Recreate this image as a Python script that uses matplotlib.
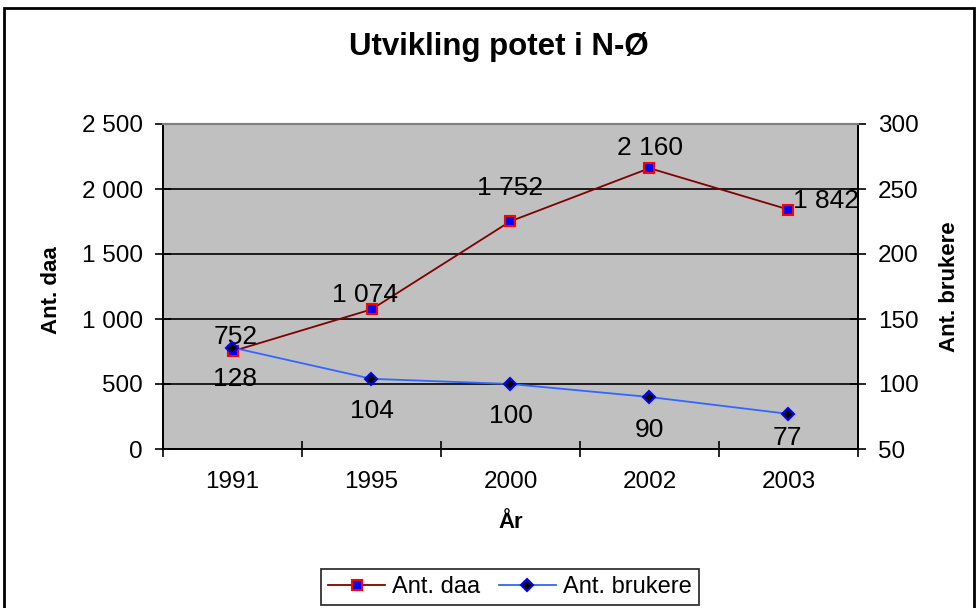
import matplotlib.pyplot as plt
from matplotlib.patches import Rectangle
from matplotlib.ticker import FuncFormatter, MultipleLocator
from matplotlib.lines import Line2D

plt.rcParams['font.family'] = ['Liberation Sans', 'DejaVu Sans']

years = ['1991', '1995', '2000', '2002', '2003']
ant_daa = [752, 1074, 1752, 2160, 1842]
ant_brukere = [128, 104, 100, 90, 77]

# manual label nudges (pixels), like in the original sheet
daa_offsets = [(3, 14), (-7, 14), (0, 33), (1, 20), (38, 9)]
bruk_offsets = [(3, -31), (0, -32), (0, -32), (0, -33), (-1, -24)]


def space_thousands(v, pos=None):
    return '{:,}'.format(int(v)).replace(',', ' ')


fig = plt.figure(figsize=(9.79, 6.08), dpi=100)
ax = fig.add_axes([163 / 979, 1 - 449 / 608, 695 / 979, 325 / 608])
ax2 = ax.twinx()

x = list(range(len(years)))
ax.plot(x, ant_daa, color='#800000', lw=1.3, marker='s', ms=7,
        mfc='#0000FF', mec='#FF0000', mew=1.5, zorder=3)
ax2.plot(x, ant_brukere, color='#3366FF', lw=1.3, marker='D', ms=6.5,
         mfc='black', mec='#0000FF', mew=1.5, zorder=3)

ax.set_facecolor('#C0C0C0')
ax.set_xlim(-0.5, len(years) - 0.5)
ax.set_ylim(0, 2500)
ax2.set_ylim(50, 300)
ax.yaxis.set_major_locator(MultipleLocator(500))
ax2.yaxis.set_major_locator(MultipleLocator(50))
ax.yaxis.set_major_formatter(FuncFormatter(space_thousands))
ax.grid(axis='y', color='black', lw=1.2)
ax.set_axisbelow(True)

ax.set_xticks([i - 0.5 for i in range(len(years) + 1)])
ax.set_xticklabels([])
ax.set_xticks(x, minor=True)
ax.set_xticklabels(years, minor=True)
ax.tick_params(axis='x', which='minor', length=0, pad=16, labelsize=17.5)
ax.tick_params(axis='x', which='major', direction='inout', length=11, width=1.2)
ax.tick_params(axis='y', direction='inout', length=11, width=1.2, pad=9, labelsize=17.5)
ax2.tick_params(axis='y', direction='inout', length=11, width=1.2, pad=9, labelsize=17.5)

for a in (ax, ax2):
    a.spines['top'].set_color('#808080')
    a.spines['top'].set_linewidth(1.5)
    for s in ('left', 'right', 'bottom'):
        a.spines[s].set_linewidth(1.3)

for i, v in enumerate(ant_daa):
    ax.annotate(space_thousands(v), (i, v), xytext=daa_offsets[i],
                textcoords='offset pixels', ha='center', va='center', fontsize=19)
for i, v in enumerate(ant_brukere):
    ax2.annotate(str(v), (i, v), xytext=bruk_offsets[i],
                 textcoords='offset pixels', ha='center', va='center', fontsize=19)

fig.text(0.51, 1 - 47 / 608, 'Utvikling potet i N-Ø', ha='center', va='center',
         fontsize=22.5, fontweight='bold')
fig.text(52 / 979, 1 - 290 / 608, 'Ant. daa', rotation=90, ha='center', va='center',
         fontsize=16, fontweight='bold')
fig.text(950 / 979, 1 - 287 / 608, 'Ant. brukere', rotation=90, ha='center', va='center',
         fontsize=16, fontweight='bold')
fig.text(511 / 979, 1 - 522 / 608, 'År', ha='center', va='center',
         fontsize=16, fontweight='bold')

handles = [
    Line2D([], [], color='#800000', lw=1.3, marker='s', ms=7,
           mfc='#0000FF', mec='#FF0000', mew=1.5),
    Line2D([], [], color='#3366FF', lw=1.3, marker='D', ms=6.5,
           mfc='black', mec='#0000FF', mew=1.5),
]
leg = fig.legend(handles, ['Ant. daa', 'Ant. brukere'], loc='center',
                 bbox_to_anchor=(510 / 979, 1 - 587 / 608), ncol=2, fontsize=17,
                 frameon=True, fancybox=False, edgecolor='black',
                 handlelength=2.4, columnspacing=0.8, handletextpad=0.3,
                 borderpad=0.3)
leg.get_frame().set_linewidth(1.3)

fig.patches.append(Rectangle((4 / 979, -0.02), 970 / 979, 1.02 - 8 / 608,
                             transform=fig.transFigure, fill=False,
                             edgecolor='black', lw=2))

fig.savefig('out.png', dpi=100)
